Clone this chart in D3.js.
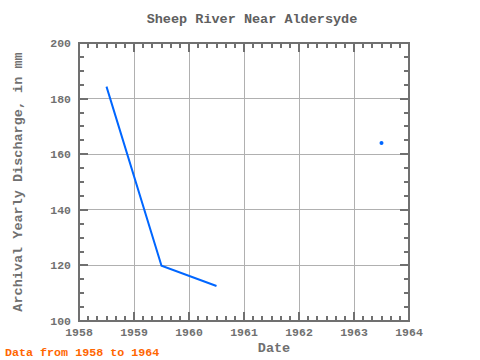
<!DOCTYPE html>
<html><head><meta charset="utf-8">
<script src="https://cdn.jsdelivr.net/npm/d3@7/dist/d3.min.js"></script>
<style>body{margin:0;background:#fff}svg{display:block}</style>
</head><body>
<svg id="c" width="480" height="360"></svg>
<script>
const title = "Sheep River Near Aldersyde";
const yLabel = "Archival Yearly Discharge, in mm";
const xLabel = "Date";
const note = "Data from 1958 to 1964";
const years = [1958.5, 1959.5, 1960.5, 1961.5, 1962.5, 1963.5];
const values = [184.3, 119.9, 112.6, null, null, 164.0];
const xTicks = [1958, 1959, 1960, 1961, 1962, 1963, 1964];
const yTicks = [100, 120, 140, 160, 180, 200];

const svg = d3.select("#c");
const L = 79, R = 409, T = 43, B = 321;
const x = d3.scaleLinear().domain([1958, 1964]).range([L, R]);
const y = d3.scaleLinear().domain([100, 200]).range([B, T]);
const font = "'Liberation Mono','DejaVu Sans Mono',monospace";
const axisCol = "#707070", gridCol = "#b0b0b0";

// grid
svg.append("g").selectAll("line").data(xTicks.slice(1, -1)).join("line")
  .attr("x1", d => x(d)).attr("x2", d => x(d)).attr("y1", T).attr("y2", B)
  .attr("stroke", gridCol).attr("stroke-width", 1).attr("shape-rendering", "crispEdges");
svg.append("g").selectAll("line").data(yTicks.slice(1, -1)).join("line")
  .attr("x1", L).attr("x2", R).attr("y1", d => y(d)).attr("y2", d => y(d))
  .attr("stroke", gridCol).attr("stroke-width", 1).attr("shape-rendering", "crispEdges");

// minor & major ticks
const xMinor = d3.range(1958, 1964.0001, 1/6);
const yMinor = d3.range(100, 200.0001, 5);
const tg = svg.append("g").attr("stroke", axisCol).attr("stroke-width", 2).attr("shape-rendering", "crispEdges");
xMinor.forEach(v => {
  const major = Math.abs(v - Math.round(v)) < 1e-6;
  const len = major ? 9 : 5;
  tg.append("line").attr("x1", x(v)).attr("x2", x(v)).attr("y1", B).attr("y2", B - len);
  tg.append("line").attr("x1", x(v)).attr("x2", x(v)).attr("y1", T).attr("y2", T + len);
});
yMinor.forEach(v => {
  const major = Math.abs(v % 20) < 1e-6;
  const len = major ? 9 : 5;
  tg.append("line").attr("x1", L).attr("x2", L + len).attr("y1", y(v)).attr("y2", y(v));
  tg.append("line").attr("x1", R).attr("x2", R - len).attr("y1", y(v)).attr("y2", y(v));
});

// frame
svg.append("rect").attr("x", L).attr("y", T).attr("width", R - L).attr("height", B - T)
  .attr("fill", "none").attr("stroke", axisCol).attr("stroke-width", 2).attr("shape-rendering", "crispEdges");

// tick labels
svg.append("g").selectAll("text").data(xTicks).join("text")
  .attr("x", d => x(d)).attr("y", 336).attr("text-anchor", "middle")
  .attr("font-family", font).attr("font-size", 11.5).attr("fill", axisCol).attr("font-weight", "bold")
  .text(d => d);
svg.append("g").selectAll("text").data(yTicks).join("text")
  .attr("x", 71).attr("y", d => y(d) + 4).attr("text-anchor", "end")
  .attr("font-family", font).attr("font-size", 11.5).attr("fill", axisCol).attr("font-weight", "bold")
  .text(d => d);

// titles
svg.append("text").attr("x", 252).attr("y", 23).attr("text-anchor", "middle")
  .attr("font-family", font).attr("font-size", 13.5).attr("fill", "#606060").attr("font-weight", "bold").text(title);
svg.append("text").attr("x", 274).attr("y", 352).attr("text-anchor", "middle")
  .attr("font-family", font).attr("font-size", 13.5).attr("fill", axisCol).attr("font-weight", "bold").text(xLabel);
svg.append("text").attr("transform", "translate(22,182) rotate(-90)").attr("text-anchor", "middle")
  .attr("font-family", font).attr("font-size", 13.5).attr("fill", axisCol).attr("font-weight", "bold").text(yLabel);
svg.append("text").attr("x", 5).attr("y", 356)
  .attr("font-family", font).attr("font-size", 11.7).attr("fill", "#ff6600").attr("font-weight", "bold").text(note);

// data
const data = years.map((yr, i) => ({yr, v: values[i]}));
const line = d3.line().defined(d => d.v != null).x(d => x(d.yr)).y(d => y(d.v));
svg.append("path").datum(data).attr("d", line).attr("fill", "none")
  .attr("stroke", "#0066ff").attr("stroke-width", 2);
const iso = data.filter((d, i) => d.v != null &&
  (i === 0 || data[i-1].v == null) && (i === data.length - 1 || data[i+1].v == null));
svg.append("g").selectAll("circle").data(iso).join("circle")
  .attr("cx", d => x(d.yr)).attr("cy", d => y(d.v)).attr("r", 2).attr("fill", "#0066ff");
</script>
</body></html>
